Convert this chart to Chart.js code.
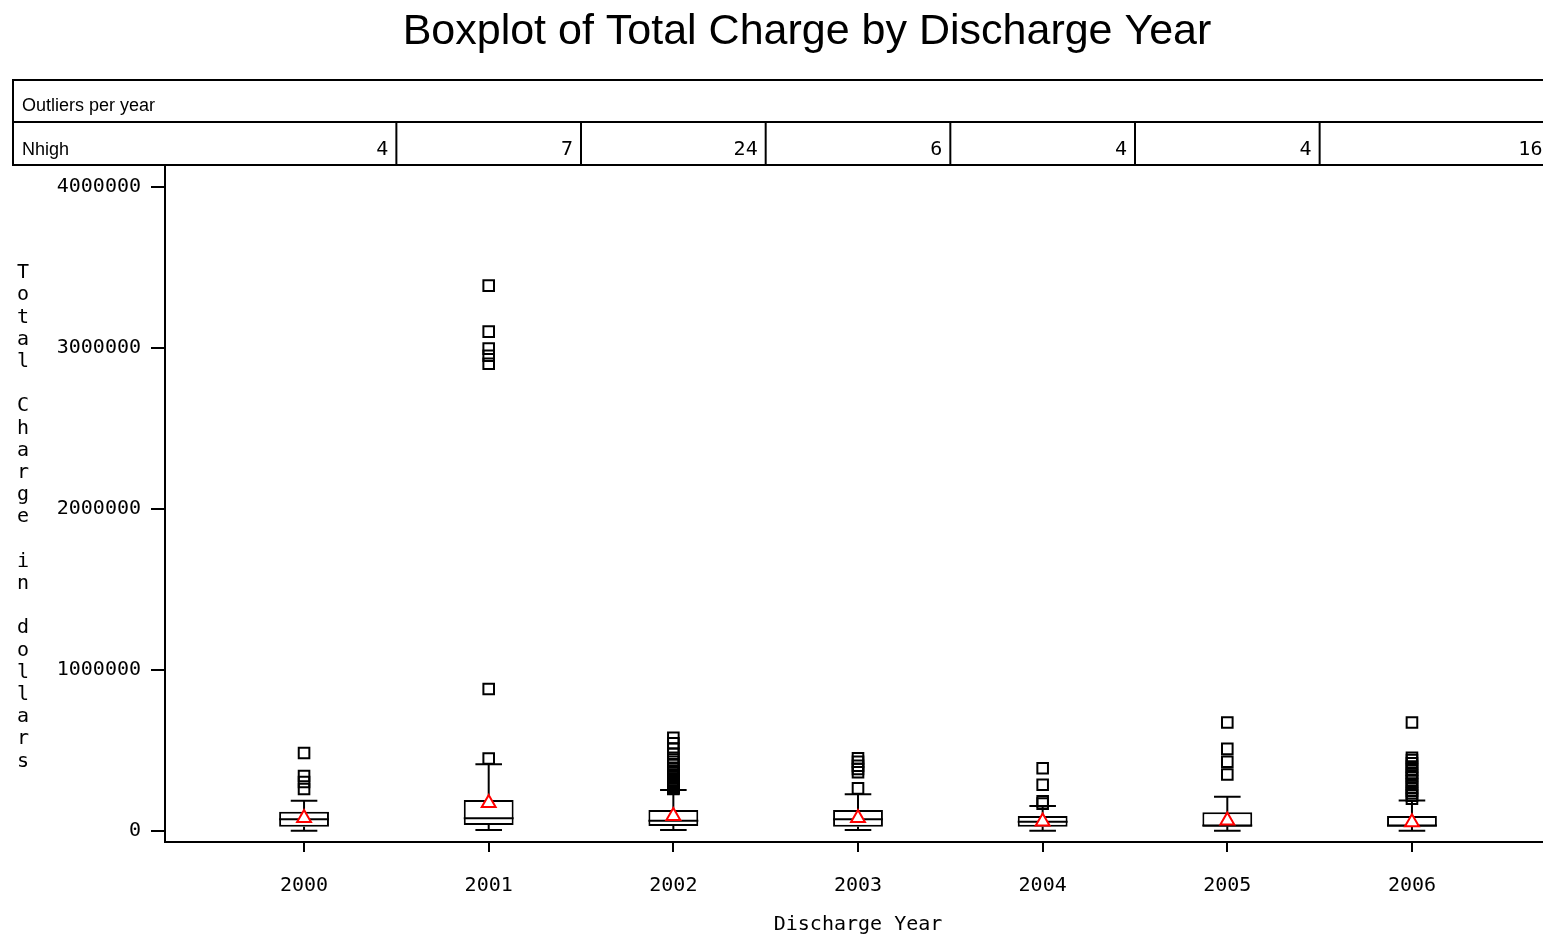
<!DOCTYPE html>
<html>
<head>
<meta charset="utf-8">
<title>Boxplot of Total Charge by Discharge Year</title>
<script src="https://cdn.jsdelivr.net/npm/chart.js@4.4.1/dist/chart.umd.min.js"></script>
<style>
  html, body { margin: 0; padding: 0; background: #fff; overflow: hidden; }
  #wrap { width: 1614px; height: 942px; }
</style>
</head>
<body>
<div id="wrap"><canvas id="chartCanvas" width="1614" height="942"></canvas></div>
<script>
// --- data ---
const years = [2000, 2001, 2002, 2003, 2004, 2005, 2006];
const lowWhisker = [2000, 6000, 6000, 6000, 2000, 2000, 2000];
const q1 = [27000, 37000, 31000, 27000, 27000, 27000, 27000];
const median = [73000, 79000, 64000, 73000, 58000, 35000, 35000];
const q3 = [120000, 193000, 130000, 130000, 93000, 116000, 93000];
const highWhisker = [188000, 414000, 255000, 228000, 155000, 213000, 190000];
const mean = [81000, 174000, 93000, 81000, 60000, 66000, 54000];

const outliers2000 = [484000, 342000, 304000, 261000];
const outliers2001 = [3385000, 3100000, 2994000, 2950000, 2900000, 882000, 450000];
const outliers2002 = [578000, 545000, 510000, 480000, 455000, 430000, 410000, 392000,
  376000, 362000, 350000, 338000, 326000, 316000, 306000, 298000,
  291000, 285000, 280000, 275000, 271000, 268000, 265000, 262000];
const outliers2003 = [451000, 430000, 405000, 385000, 365000, 265000];
const outliers2004 = [390000, 287000, 185000, 170000];
const outliers2005 = [674000, 510000, 430000, 351000];
const outliers2006 = [674000, 455000, 440000, 420000, 400000, 380000, 360000, 345000,
  330000, 310000, 290000, 270000, 250000, 235000, 220000, 200000];
const outliers = [outliers2000, outliers2001, outliers2002, outliers2003, outliers2004, outliers2005, outliers2006];

const nHigh = [4, 7, 24, 6, 4, 4, 16];
const yTicks = [0, 1000000, 2000000, 3000000, 4000000];

const chartTitle = "Boxplot of Total Charge by Discharge Year";
const tableTitle = "Outliers per year";
const tableRowLabel = "Nhigh";
const yAxisTitle = "Total Charge in dollars";
const xAxisTitle = "Discharge Year";

const monoFont = "'DejaVu Sans Mono', 'Liberation Mono', monospace";
const sansFont = "'Liberation Sans', Arial, sans-serif";

// half widths in x units for caps and median lines
const BOX_HALF = 0.135;
const CAP_HALF = 0.072;
// the table stops this far (x units) past the last year
const TABLE_END = 0.75;

// whiskers, caps and medians as one line dataset, broken by gaps
const segments = [];
years.forEach((yr, i) => {
  const gap = { x: yr, y: null };
  segments.push({ x: yr, y: q3[i] }, { x: yr, y: highWhisker[i] }, gap);
  segments.push({ x: yr - CAP_HALF, y: highWhisker[i] }, { x: yr + CAP_HALF, y: highWhisker[i] }, gap);
  segments.push({ x: yr, y: q1[i] }, { x: yr, y: lowWhisker[i] }, gap);
  segments.push({ x: yr - CAP_HALF, y: lowWhisker[i] }, { x: yr + CAP_HALF, y: lowWhisker[i] }, gap);
  segments.push({ x: yr - BOX_HALF, y: median[i] }, { x: yr + BOX_HALF, y: median[i] }, gap);
});

const outlierPoints = years.flatMap((yr, i) => outliers[i].map(v => ({ x: yr, y: v })));
const meanPoints = years.map((yr, i) => ({ x: yr, y: mean[i] }));
const boxes = years.map((yr, i) => ({ x: yr, y: [q1[i], q3[i]] }));

// table of outlier counts, stacked y title, x title under the middle year
const extrasPlugin = {
  id: "extras",
  afterDraw(chart) {
    const { ctx, scales: { x } } = chart;
    const left = 13, top = 80, mid = 122, bottom = 165;
    const right = x.getPixelForValue(years[years.length - 1] + TABLE_END);
    ctx.save();
    ctx.strokeStyle = "#000";
    ctx.lineWidth = 2;
    ctx.strokeRect(left, top, right - left, bottom - top);
    ctx.beginPath();
    ctx.moveTo(left, mid);
    ctx.lineTo(right, mid);
    ctx.stroke();

    const edges = years.slice(1).map((yr, i) => x.getPixelForValue((years[i] + yr) / 2));
    edges.forEach(px => {
      ctx.beginPath();
      ctx.moveTo(px, mid);
      ctx.lineTo(px, bottom);
      ctx.stroke();
    });

    ctx.fillStyle = "#000";
    ctx.textBaseline = "middle";
    ctx.font = "18px " + sansFont;
    ctx.textAlign = "left";
    ctx.fillText(tableTitle, 22, 106);
    ctx.fillText(tableRowLabel, 22, 150);

    ctx.font = "20px " + monoFont;
    ctx.textAlign = "right";
    const cellRights = [...edges, right];
    nHigh.forEach((n, i) => ctx.fillText(String(n), cellRights[i] - 8, 150));

    ctx.textAlign = "center";
    [...yAxisTitle].forEach((ch, i) => ctx.fillText(ch, 23, 273 + i * 22.2));

    const midYear = (years[0] + years[years.length - 1]) / 2;
    ctx.fillText(xAxisTitle, x.getPixelForValue(midYear), 925);
    ctx.restore();
  }
};

Chart.defaults.color = "#000";
Chart.defaults.font.family = monoFont;
Chart.defaults.font.size = 20;

new Chart(document.getElementById("chartCanvas"), {
  type: "bar",
  data: {
    datasets: [
      {
        type: "scatter",
        label: "Mean",
        data: meanPoints,
        pointStyle: "triangle",
        pointRadius: 8,
        borderColor: "#ff0000",
        backgroundColor: "#ffffff",
        borderWidth: 2,
        order: 0
      },
      {
        type: "scatter",
        label: "Outliers",
        data: outlierPoints,
        pointStyle: "rect",
        pointRadius: 7.5,
        borderColor: "#000",
        backgroundColor: "rgba(0,0,0,0)",
        borderWidth: 2,
        order: 1
      },
      {
        type: "line",
        label: "Whiskers",
        data: segments,
        borderColor: "#000",
        borderWidth: 2,
        pointRadius: 0,
        spanGaps: false,
        tension: 0,
        order: 2
      },
      {
        type: "bar",
        label: "Box",
        data: boxes,
        backgroundColor: "#ffffff",
        borderColor: "#000",
        borderWidth: 2,
        borderSkipped: false,
        categoryPercentage: 1,
        barPercentage: 0.27,
        order: 3
      }
    ]
  },
  options: {
    responsive: false,
    animation: false,
    events: [],
    layout: { padding: 0 },
    plugins: {
      legend: { display: false },
      tooltip: { enabled: false },
      title: {
        display: true,
        text: chartTitle,
        color: "#000",
        font: { family: sansFont, size: 43, weight: "normal" },
        padding: { top: 6, bottom: 109 }
      }
    },
    scales: {
      x: {
        type: "linear",
        min: 1999.247,
        max: 2007.04,
        offset: false,
        afterBuildTicks: s => { s.ticks = years.map(v => ({ value: v })); },
        afterFit: s => { s.height = 100; },
        ticks: { callback: v => String(v), padding: 22, font: { size: 20 }, maxRotation: 0 },
        grid: { offset: false, drawOnChartArea: false, color: "#000", lineWidth: 2, tickLength: 10 },
        border: { display: true, color: "#000", width: 2 },
        title: { display: false }
      },
      y: {
        type: "linear",
        min: -68000,
        max: 4124000,
        afterBuildTicks: s => { s.ticks = yTicks.map(v => ({ value: v })); },
        afterFit: s => { s.width = 165; },
        ticks: { callback: v => String(v), padding: 10, font: { size: 20 } },
        grid: { drawOnChartArea: false, color: "#000", lineWidth: 2, tickLength: 14 },
        border: { display: true, color: "#000", width: 2 }
      }
    }
  },
  plugins: [extrasPlugin]
});
</script>
</body>
</html>
